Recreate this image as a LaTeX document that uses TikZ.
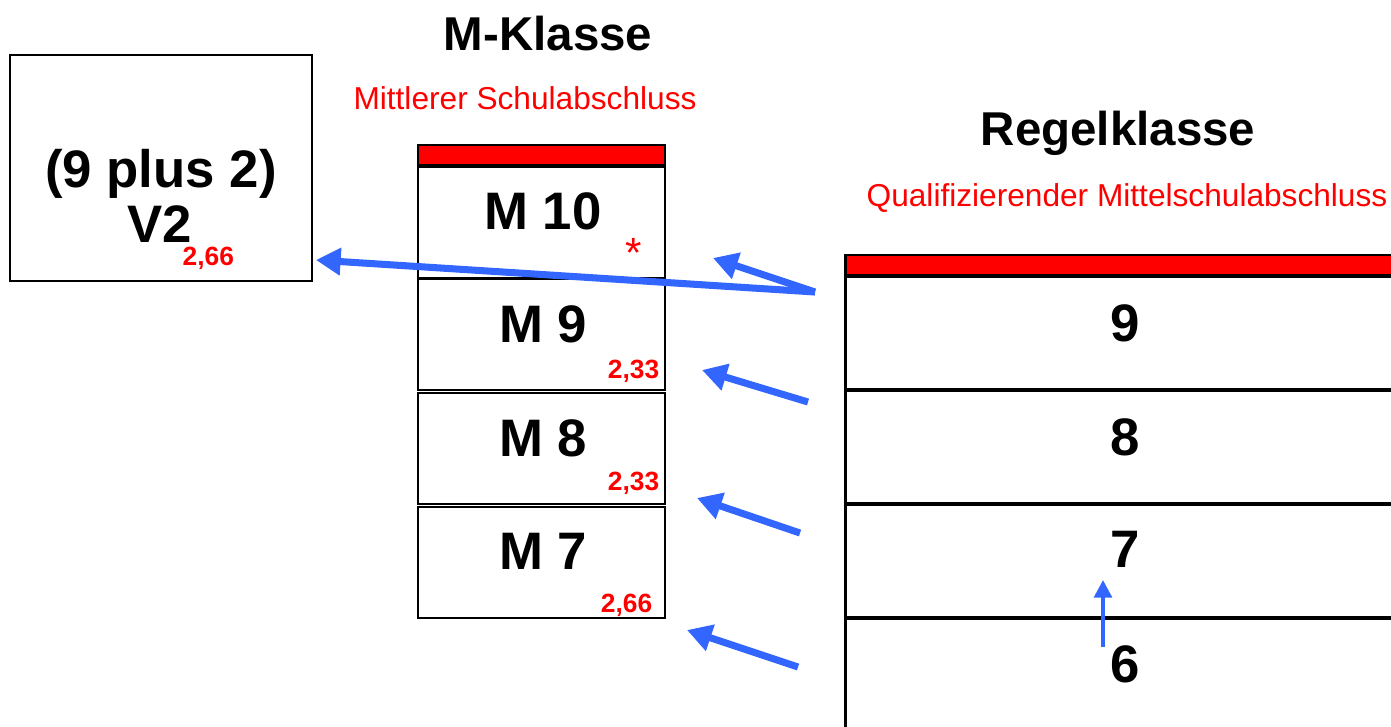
\documentclass[tikz,border=0pt]{standalone}
\usepackage{fontspec}
\setmainfont{Liberation Sans}
\usetikzlibrary{arrows.meta}
\definecolor{schulrot}{RGB}{255,0,0}
\definecolor{pfeilblau}{RGB}{51,102,255}
\tikzset{
	kasten/.style={draw=black, line width=0.8pt, fill=white, inner sep=0pt},
	balken/.style={draw=black, line width=0.8pt, fill=schulrot, inner sep=0pt, minimum height=0.2cm},
	gross/.style={font=\fontsize{15}{18}\selectfont\bfseries, inner sep=0pt},
	titel/.style={font=\fontsize{13.5}{16}\selectfont\bfseries, inner sep=0pt},
	untertitel/.style={schulrot, font=\fontsize{9}{11}\selectfont, inner sep=0pt},
	wert/.style={schulrot, font=\fontsize{7.5}{9}\selectfont\bfseries, inner sep=0pt},
	pfeil/.style={draw=pfeilblau, line width=2pt, -{Triangle[length=7pt, width=7.5pt]}},
	pfeilklein/.style={draw=pfeilblau, line width=1.1pt, -{Triangle[length=5pt, width=5pt]}}
}
\begin{document}
\begin{tikzpicture}[x=0.01cm, y=-0.01cm]
		\useasboundingbox (0,0) rectangle (1391,726);
		% V2
		\node[kasten, minimum width=3.02cm, minimum height=2.26cm] (vzwei) at (161,168) {};
		\node[gross, anchor=base] (vzweia) at (161,187) {(9 plus 2)};
		\node[gross, anchor=base] (vzweib) at (160,242) {V2};
		\node[wert, anchor=base west] (vzweiwert) at (182,265) {2,66};
		% M-Klasse
		\node[titel, anchor=base] (mtitel) at (548,50) {M-Klasse};
		\node[untertitel, anchor=base] (mziel) at (525,109) {Mittlerer Schulabschluss};
		\node[balken, minimum width=2.47cm] (mbalken) at (541.5,155) {};
		\node[kasten, minimum width=2.47cm, minimum height=1.11cm] (mzehn) at (541.5,222.5) {};
		\node[kasten, minimum width=2.47cm, minimum height=1.11cm] (mneun) at (541.5,334.5) {};
		\node[kasten, minimum width=2.47cm, minimum height=1.11cm] (macht) at (541.5,448.5) {};
		\node[kasten, minimum width=2.47cm, minimum height=1.11cm] (msieben) at (541.5,562.5) {};
		\node[gross, anchor=base] (mzehntext) at (543,229) {M 10};
		\node[gross, anchor=base] (mneuntext) at (543,342) {M 9};
		\node[gross, anchor=base] (machttext) at (543,456) {M 8};
		\node[gross, anchor=base] (msiebentext) at (543,569) {M 7};
		\node[schulrot, font=\fontsize{12}{14}\selectfont, inner sep=0pt, anchor=base] (stern) at (634,267) {*};
		\node[wert, anchor=base east] (mneunwert) at (660,378) {2,33};
		\node[wert, anchor=base east] (machtwert) at (660,490) {2,33};
		\node[wert, anchor=base east] (msiebenwert) at (653,612) {2,66};
		% Regelklasse
		\node[titel, anchor=base] (rtitel) at (1118,145) {Regelklasse};
		\node[untertitel, anchor=base] (rziel) at (1127,206) {Qualifizierender Mittelschulabschluss};
		\node[balken, minimum width=5.54cm] (rbalken) at (1123,265) {};
		\node[kasten, minimum width=5.54cm, minimum height=1.12cm] (rneun) at (1123,333) {};
		\node[kasten, minimum width=5.54cm, minimum height=1.12cm] (racht) at (1123,447) {};
		\node[kasten, minimum width=5.54cm, minimum height=1.12cm] (rsieben) at (1123,561) {};
		\node[kasten, minimum width=5.54cm, minimum height=1.21cm] (rsechs) at (1123,679.5) {};
		\node[gross, anchor=base] (rneuntext) at (1125,341) {9};
		\node[gross, anchor=base] (rachttext) at (1125,455) {8};
		\node[gross, anchor=base] (rsiebentext) at (1125,567) {7};
		\node[gross, anchor=base] (rsechstext) at (1125,682) {6};
		% Pfeile
		\coordinate (aneun) at (815,292);
		\coordinate (aacht) at (808,402);
		\coordinate (asieben) at (800,533);
		\coordinate (asechs) at (798,667);
		\coordinate (zvzwei) at (316,260);
		\coordinate (zzehn) at (713,258);
		\coordinate (zneun) at (702,370);
		\coordinate (zacht) at (697,498);
		\coordinate (zsieben) at (687,630);
		\coordinate (shoch) at (1103,647);
		\coordinate (shochziel) at (1103,580);
		\draw[pfeil] (aneun) -- (zvzwei);
		\draw[pfeil] (aneun) -- (zzehn);
		\draw[pfeil] (aacht) -- (zneun);
		\draw[pfeil] (asieben) -- (zacht);
		\draw[pfeil] (asechs) -- (zsieben);
		\draw[pfeilklein] (shoch) -- (shochziel);
	\end{tikzpicture}
\end{document}
